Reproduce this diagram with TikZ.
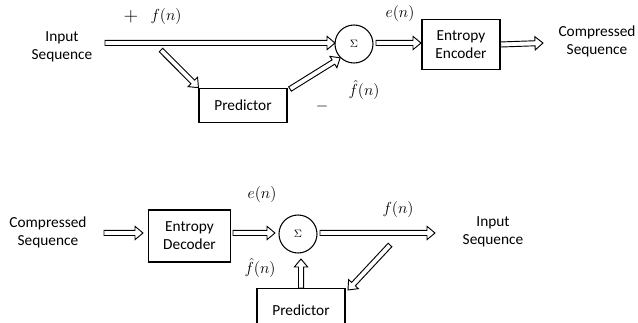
\documentclass[tikz,border=0pt]{standalone}
\usepackage{amsmath}
\usepackage{fontspec}
\setmainfont{Carlito}
\usetikzlibrary{calc,positioning}

% hollow block arrow from #2 to #3
\newcommand{\hollowarrow}[3][]{%
  \coordinate (ah) at ($(#3)!6pt!(#2)$);
  \draw[flow,#1]
    ($(#2)!1.9pt!90:(#3)$) -- ($(ah)!1.9pt!-90:(#2)$)
    -- ($(ah)!5pt!-90:(#2)$) -- (#3)
    -- ($(ah)!5pt!90:(#2)$) -- ($(ah)!1.9pt!90:(#2)$)
    -- ($(#2)!1.9pt!-90:(#3)$) -- cycle;}

\begin{document}
\begin{tikzpicture}[
  x=0.75pt,y=-0.75pt,
  font=\fontsize{11.5}{13.5}\selectfont,
  flow/.style={
    draw=black,
    fill=white,
    line width=.7pt,
    line join=miter
  },
  blockbox/.style={
    draw=black,
    line width=.8pt,
    align=center,
    inner sep=2pt
  },
  sumnode/.style={
    circle,
    draw=black,
    line width=.8pt,
    minimum size=28.5pt,
    inner sep=0pt,
    font=\footnotesize
  },
  lbl/.style={
    align=center,
    inner sep=0pt
  },
  sig/.style={
    inner sep=0pt,
    font=\fontsize{13}{15}\selectfont
  }
]

\useasboundingbox (0,0) rectangle (638,323);

% ---- encoder ----
\node[lbl] (inseq) at (62,47) {Input\\Sequence};

\node[sumnode] (sum) at (354,44) {$\Sigma$};
\node[blockbox,minimum width=58.5pt,minimum height=37pt]
  (enc) at (461,44.5) {Entropy\\Encoder};
\node[blockbox,minimum width=66pt,minimum height=26pt]
  (pred) at (243,105.5) {Predictor};
\node[lbl] (outseq) at (597,41) {Compressed\\Sequence};

\coordinate (tin)  at (105,43);
\coordinate (tap)  at (161,50);
\coordinate (tsum) at (335,43);
\coordinate (tpe)  at (290,89);
\coordinate (tse)  at (376,43);
\coordinate (tenc) at (421,43);
\coordinate (tout) at (543,43);

\hollowarrow{tin}{tsum}
\hollowarrow{tap}{pred.north west}
\hollowarrow{tpe}{sum.south west}
\hollowarrow{tse}{tenc}
\hollowarrow{enc.east}{tout}

\node[sig,font=\Large] (plus) at (131,17) {$+$};
\node[sig] (fn)   at (166,17) {$f(n)$};
\node[sig] (en)   at (400,14) {$e(n)$};
\node[sig] (fh)   at (364,90) {$\hat f(n)$};
\node[sig] (minus) at (322,107) {$-$};

% ---- decoder ----
\node[lbl] (cseq) at (48,232) {Compressed\\Sequence};

\node[blockbox,minimum width=62pt,minimum height=39pt]
  (dec) at (189.5,236) {Entropy\\Decoder};
\node[sumnode] (sumb) at (298,234) {$\Sigma$};
\node[blockbox,minimum width=66pt,minimum height=33pt,anchor=north]
  (predb) at (301,288) {Predictor};
\node[lbl] (iseq) at (493,232) {Input\\Sequence};

\coordinate (bin)  at (104,233);
\coordinate (bdec) at (143,233);
\coordinate (bde)  at (233,233);
\coordinate (bsum) at (275,233);
\coordinate (bse)  at (320,233);
\coordinate (bout) at (435,233);
\coordinate (bup)  at (301,288);
\coordinate (btop) at (301,259);
\coordinate (btap) at (390,245);
\coordinate (bpe)  at (348,290);

\hollowarrow{bin}{bdec}
\hollowarrow{bde}{bsum}
\hollowarrow{bse}{bout}
\hollowarrow{bup}{btop}
\hollowarrow{btap}{bpe}

\node[sig] (enb) at (262,195) {$e(n)$};
\node[sig] (fhb) at (260,268) {$\hat f(n)$};
\node[sig] (fnb) at (398,210) {$f(n)$};

\end{tikzpicture}
\end{document}
